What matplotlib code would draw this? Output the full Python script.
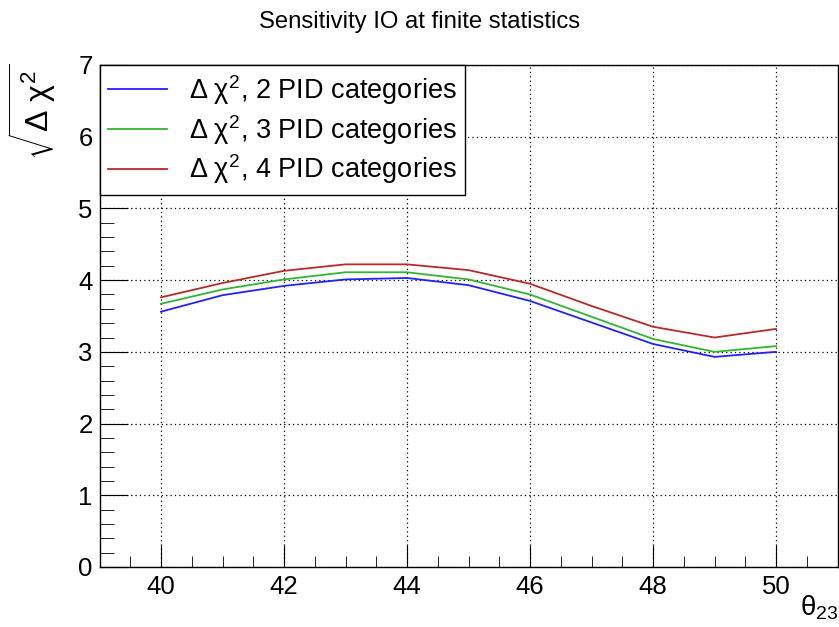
import matplotlib
matplotlib.use("Agg")
import matplotlib.pyplot as plt
from matplotlib.ticker import MultipleLocator

plt.rcParams["font.family"] = "Liberation Sans"
plt.rcParams["mathtext.fontset"] = "custom"
plt.rcParams["mathtext.rm"] = "Liberation Sans"
plt.rcParams["mathtext.it"] = "Liberation Sans"
plt.rcParams["mathtext.bf"] = "Liberation Sans:bold"

theta = [40, 41, 42, 43, 44, 45, 46, 47, 48, 49, 50]
pid2 = [3.56, 3.79, 3.92, 4.01, 4.03, 3.93, 3.71, 3.41, 3.11, 2.93, 3.00]
pid3 = [3.67, 3.87, 4.01, 4.11, 4.11, 4.01, 3.80, 3.49, 3.18, 3.00, 3.08]
pid4 = [3.76, 3.96, 4.13, 4.22, 4.22, 4.14, 3.95, 3.64, 3.35, 3.20, 3.32]

fig = plt.figure(figsize=(8.39, 6.27), dpi=100)
ax = fig.add_axes([99.5 / 839, 60 / 627, 738 / 839, 502 / 627])

ax.plot(theta, pid2, color="#2222ff", lw=1.3, label=r"$\Delta\;\chi^{2}$, 2 PID categories")
ax.plot(theta, pid3, color="#33b433", lw=1.3, label=r"$\Delta\;\chi^{2}$, 3 PID categories")
ax.plot(theta, pid4, color="#b82a2a", lw=1.3, label=r"$\Delta\;\chi^{2}$, 4 PID categories")

ax.set_xlim(39, 51)
ax.set_ylim(0, 7)
ax.xaxis.set_major_locator(MultipleLocator(2))
ax.xaxis.set_minor_locator(MultipleLocator(0.5))
ax.yaxis.set_major_locator(MultipleLocator(1))
ax.yaxis.set_minor_locator(MultipleLocator(0.2))
ax.tick_params(which="both", direction="in", top=False, right=False, labelsize=18.5)
ax.tick_params(axis="x", which="major", length=16, pad=6)
ax.tick_params(axis="x", which="minor", length=8)
ax.tick_params(axis="y", which="major", length=20, pad=5)
ax.tick_params(axis="y", which="minor", length=10)
ax.grid(which="major", color="black", linestyle=(0, (1, 2.5)), linewidth=0.9)
for s in ax.spines.values():
    s.set_linewidth(1.0)

leg = ax.legend(loc="upper left", bbox_to_anchor=(0.0, 1.0), borderaxespad=0,
                fontsize=19.5, frameon=True, fancybox=False, framealpha=1,
                edgecolor="black", handlelength=2.2, handletextpad=0.8,
                borderpad=0.3, labelspacing=0.22)
leg.get_frame().set_linewidth(1.0)

fig.text(420 / 839, 1 - 22 / 627, "Sensitivity IO at finite statistics",
         ha="center", va="center", fontsize=17.2)
fig.text(32 / 839, 1 - 64 / 627, r"$\sqrt{\Delta\ \chi^{2}}$", rotation=90,
         ha="center", va="top", fontsize=23)
fig.text(838 / 839, 1 - 594 / 627, r"$\theta_{23}$", ha="right", va="top", fontsize=20)

fig.savefig("out.png", dpi=100)
